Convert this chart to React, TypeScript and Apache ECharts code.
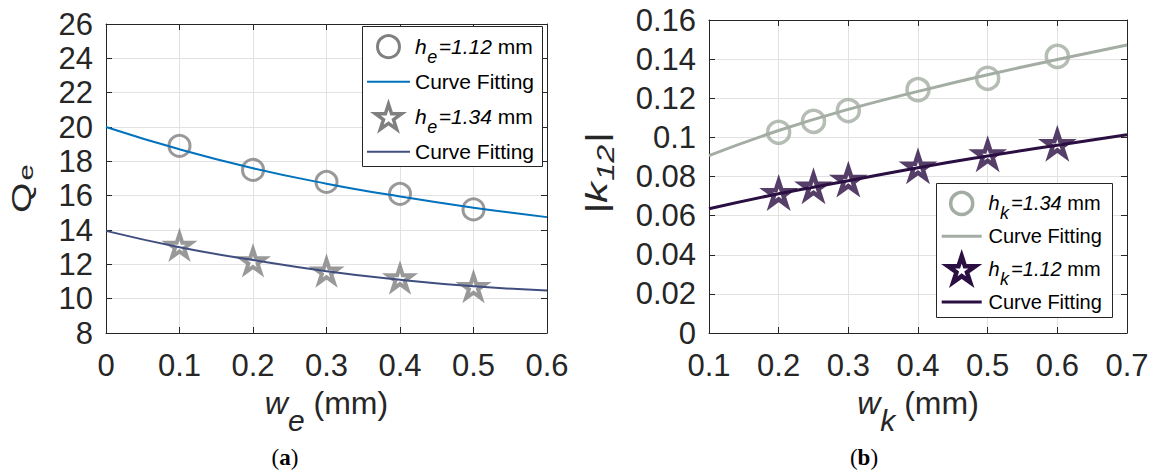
import React, { useEffect, useRef } from "react";
import * as echarts from "echarts";

// ---- panel (a): Q_e versus w_e ----
const weValues = [0.1, 0.2, 0.3, 0.4, 0.5];
const qeH112 = [18.9, 17.5, 16.8, 16.1, 15.2];
const qeH134 = [13.1, 12.2, 11.6, 11.2, 10.7];
const weFitX = [0, 0.1, 0.2, 0.3, 0.4, 0.5, 0.6];
const qeFitH112 = [20.0, 18.7, 17.6, 16.7, 15.95, 15.3, 14.75];
const qeFitH134 = [13.95, 13.0, 12.25, 11.6, 11.1, 10.72, 10.47];

// ---- panel (b): |k12| versus w_k ----
const wkValues = [0.2, 0.25, 0.3, 0.4, 0.5, 0.6];
const k12H134 = [0.1026, 0.1082, 0.1137, 0.1244, 0.1302, 0.1414];
const k12H112 = [0.0715, 0.0749, 0.0783, 0.0851, 0.0913, 0.0966];
const wkFitX = [0.1, 0.2, 0.3, 0.4, 0.5, 0.6, 0.7];
const k12FitH134 = [0.0907, 0.1035, 0.1143, 0.1235, 0.132, 0.1398, 0.1472];
const k12FitH112 = [0.0635, 0.0712, 0.0778, 0.0845, 0.0905, 0.096, 0.1013];

const FONT_NAME = "Liberation Sans";
const FONT = "'Liberation Sans', Arial, Helvetica, sans-serif";
const SERIF = "'Liberation Serif', 'DejaVu Serif', serif";
const AXIS = "#262626";
const GRID = "#e2e2e2";

const C_A1 = "#808080";
const C_AFIT1 = "#0072BD";
const C_AFIT2 = "#3f4e7e";
const C_B1 = "#a3ada3";
const C_B2 = "#2b0e42";

const STAR =
  "path://M50 0 L61.23 34.55 L97.55 34.55 L68.17 55.9 L79.39 90.45 L50 69.1 L20.61 90.45 L31.83 55.9 L2.45 34.55 L38.77 34.55 Z";
const STAR_UNIT = [
  [50, 0], [61.23, 34.55], [97.55, 34.55], [68.17, 55.9], [79.39, 90.45],
  [50, 69.1], [20.61, 90.45], [31.83, 55.9], [2.45, 34.55], [38.77, 34.55],
];

const pairs = (xs: number[], ys: number[]) => xs.map((x, i) => [x, ys[i]]);

const measureCtx = document.createElement("canvas").getContext("2d")!;
function textWidth(text: string, size: number, italic: boolean) {
  measureCtx.font = `${italic ? "italic " : ""}${size}px '${FONT_NAME}'`;
  return measureCtx.measureText(text).width;
}

type Part = { text: string; size: number; italic?: boolean; dy?: number; gap?: number };

// lays text pieces out one after another along a line (sub-scripts get a dy)
function textRun(x0: number, y0: number, parts: Part[], color: string, z = 52) {
  const out: any[] = [];
  let x = x0;
  for (const p of parts) {
    out.push({
      type: "text",
      x,
      y: y0 + (p.dy || 0),
      z,
      style: {
        text: p.text,
        fontFamily: FONT,
        fontSize: p.size,
        fontStyle: p.italic ? "italic" : "normal",
        fill: color,
        align: "left",
        verticalAlign: "middle",
      },
    });
    x += textWidth(p.text, p.size, !!p.italic) + (p.gap || 0);
  }
  return out;
}

function starPoints(cx: number, cy: number, h: number) {
  const s = h / 90.45;
  return STAR_UNIT.map(([x, y]) => [cx + (x - 50) * s, cy + (y - 45.225) * s]);
}

type Row =
  | { kind: "circle"; color: string; lw: number; r: number; parts: Part[] }
  | { kind: "star"; color: string; lw: number; size: number; parts: Part[] }
  | { kind: "line"; color: string; lw: number; parts: Part[] };

function legendBox(
  box: { x: number; y: number; w: number; h: number },
  iconX1: number,
  iconX2: number,
  textX: number,
  rowY: number[],
  rows: Row[]
) {
  const els: any[] = [
    {
      type: "rect",
      z: 50,
      shape: { x: box.x + 0.5, y: box.y + 0.5, width: box.w, height: box.h },
      style: { fill: "#fff", stroke: AXIS, lineWidth: 1 },
    },
  ];
  const cx = (iconX1 + iconX2) / 2;
  rows.forEach((row, i) => {
    const cy = rowY[i];
    if (row.kind === "circle") {
      els.push({ type: "circle", z: 51, shape: { cx, cy, r: row.r }, style: { fill: "none", stroke: row.color, lineWidth: row.lw } });
    } else if (row.kind === "star") {
      els.push({ type: "polygon", z: 51, shape: { points: starPoints(cx, cy, row.size) }, style: { fill: "#fff", stroke: row.color, lineWidth: row.lw, lineJoin: "miter" } });
    } else {
      els.push({ type: "line", z: 51, shape: { x1: iconX1, y1: cy, x2: iconX2, y2: cy }, style: { stroke: row.color, lineWidth: row.lw } });
    }
    els.push(...textRun(textX, cy, row.parts, "#000"));
  });
  return els;
}

function rotatedName(x: number, y: number, parts: Part[], stretch: number) {
  return {
    type: "group",
    x,
    y,
    rotation: Math.PI / 2,
    scaleX: stretch,
    children: textRun(0, 0, parts, AXIS, 40),
  };
}

function mainX(grid: number, min: number, max: number, name: string) {
  return {
    gridIndex: grid,
    type: "value",
    min,
    max,
    interval: 0.1,
    position: "bottom",
    axisLine: { show: true, onZero: false, lineStyle: { color: AXIS, width: 1 } },
    axisTick: { show: true, inside: true, length: 6, lineStyle: { color: AXIS } },
    splitLine: { show: true, lineStyle: { color: GRID, width: 1 } },
    axisLabel: { fontFamily: FONT, fontSize: 31, color: AXIS, margin: 17 },
    name,
    nameLocation: "middle",
    nameGap: 37,
    nameTextStyle: {
      rich: {
        m: { fontFamily: FONT, fontSize: 32, fontStyle: "italic", color: AXIS },
        s: { fontFamily: FONT, fontSize: 30, fontStyle: "italic", color: AXIS, padding: [35, 0, 0, 0] },
        n: { fontFamily: FONT, fontSize: 32, color: AXIS },
      },
    },
  };
}

function boxX(grid: number, min: number, max: number) {
  return {
    gridIndex: grid,
    type: "value",
    min,
    max,
    interval: 0.1,
    position: "top",
    axisLine: { show: true, onZero: false, lineStyle: { color: AXIS, width: 1 } },
    axisTick: { show: true, inside: true, length: 6, lineStyle: { color: AXIS } },
    splitLine: { show: false },
    axisLabel: { show: false },
  };
}

function mainY(grid: number, min: number, max: number, interval: number) {
  return {
    gridIndex: grid,
    type: "value",
    min,
    max,
    interval,
    position: "left",
    axisLine: { show: true, onZero: false, lineStyle: { color: AXIS, width: 1 } },
    axisTick: { show: true, inside: true, length: 6, lineStyle: { color: AXIS } },
    splitLine: { show: true, lineStyle: { color: GRID, width: 1 } },
    axisLabel: { fontFamily: FONT, fontSize: 31, color: AXIS, margin: 13 },
  };
}

function boxY(grid: number, min: number, max: number, interval: number) {
  return {
    gridIndex: grid,
    type: "value",
    min,
    max,
    interval,
    position: "right",
    axisLine: { show: true, onZero: false, lineStyle: { color: AXIS, width: 1 } },
    axisTick: { show: true, inside: true, length: 6, lineStyle: { color: AXIS } },
    splitLine: { show: false },
    axisLabel: { show: false },
  };
}

function caption(x: number, y: number, letter: string) {
  return {
    type: "text",
    x,
    y,
    style: {
      text: `{p|(}{b|${letter}}{p|)}`,
      align: "center",
      verticalAlign: "middle",
      rich: {
        p: { fontFamily: SERIF, fontSize: 23, fill: "#000" },
        b: { fontFamily: SERIF, fontSize: 23, fontWeight: "bold", fill: "#000" },
      },
    },
  };
}

function buildOption(): any {
  const legendA = legendBox(
    { x: 362, y: 26, w: 180, h: 140 },
    367,
    410,
    415,
    [46.7, 81.7, 116.7, 151.7],
    [
      { kind: "circle", color: C_A1, lw: 3, r: 11, parts: [
        { text: "h", size: 21, italic: true, gap: 0.5 },
        { text: "e", size: 18, italic: true, dy: 10, gap: 1.5 },
        { text: "=1.12", size: 21, italic: true },
        { text: " mm", size: 21 },
      ] },
      { kind: "line", color: C_AFIT1, lw: 2, parts: [{ text: "Curve Fitting", size: 21 }] },
      { kind: "star", color: C_A1, lw: 3.5, size: 25, parts: [
        { text: "h", size: 21, italic: true, gap: 0.5 },
        { text: "e", size: 18, italic: true, dy: 10, gap: 1.5 },
        { text: "=1.34", size: 21, italic: true },
        { text: " mm", size: 21 },
      ] },
      { kind: "line", color: C_AFIT2, lw: 2, parts: [{ text: "Curve Fitting", size: 21 }] },
    ]
  );

  const legendB = legendBox(
    { x: 936, y: 183, w: 176, h: 134 },
    941.7,
    981.7,
    988.5,
    [203.4, 236.3, 269.2, 302.0],
    [
      { kind: "circle", color: C_B1, lw: 3.5, r: 11, parts: [
        { text: "h", size: 20, italic: true, gap: 0.5 },
        { text: "k", size: 18, italic: true, dy: 10, gap: 2 },
        { text: "=1.34", size: 20, italic: true },
        { text: " mm", size: 20 },
      ] },
      { kind: "line", color: C_B1, lw: 3, parts: [{ text: "Curve Fitting", size: 20 }] },
      { kind: "star", color: C_B2, lw: 4.5, size: 26, parts: [
        { text: "h", size: 20, italic: true, gap: 0.5 },
        { text: "k", size: 18, italic: true, dy: 10, gap: 2 },
        { text: "=1.12", size: 20, italic: true },
        { text: " mm", size: 20 },
      ] },
      { kind: "line", color: C_B2, lw: 3, parts: [{ text: "Curve Fitting", size: 20 }] },
    ]
  );

  const nameQe = rotatedName(21.5, 213, [
    { text: "Q", size: 28, gap: 1.5 },
    { text: "e", size: 21, dy: 4.5 },
  ], 1.4);

  const nameK12 = rotatedName(597, 214, [
    { text: "|k", size: 30, italic: true, gap: 1 },
    { text: "12", size: 23, italic: true, dy: 9, gap: 1 },
    { text: "|", size: 30, italic: true },
  ], 1.4);

  return {
    animation: false,
    backgroundColor: "#fff",
    grid: [
      { left: 106, top: 24, width: 441, height: 309 },
      { left: 709, top: 20, width: 418, height: 313 },
    ],
    xAxis: [
      mainX(0, 0, 0.6, "{m|w}{s|e}{n| (mm)}"),
      boxX(0, 0, 0.6),
      mainX(1, 0.1, 0.7, "{m|w}{s|k}{n| (mm)}"),
      boxX(1, 0.1, 0.7),
    ],
    yAxis: [mainY(0, 8, 26, 2), boxY(0, 8, 26, 2), mainY(1, 0, 0.16, 0.02), boxY(1, 0, 0.16, 0.02)],
    series: [
      {
        name: "he = 1.12 mm",
        type: "scatter",
        xAxisIndex: 0,
        yAxisIndex: 0,
        data: pairs(weValues, qeH112),
        symbol: "circle",
        symbolSize: 21,
        itemStyle: { color: "rgba(255,255,255,0)", borderColor: C_A1, borderWidth: 3 },
      },
      {
        name: "Curve Fitting (he = 1.12 mm)",
        type: "line",
        xAxisIndex: 0,
        yAxisIndex: 0,
        data: pairs(weFitX, qeFitH112),
        smooth: true,
        symbol: "none",
        lineStyle: { color: C_AFIT1, width: 2 },
        itemStyle: { color: C_AFIT1 },
      },
      {
        name: "he = 1.34 mm",
        type: "scatter",
        xAxisIndex: 0,
        yAxisIndex: 0,
        data: pairs(weValues, qeH134),
        symbol: STAR,
        symbolSize: 24,
        symbolKeepAspect: true,
        itemStyle: { color: "#ffffff", borderColor: C_A1, borderWidth: 4 },
      },
      {
        name: "Curve Fitting (he = 1.34 mm)",
        type: "line",
        xAxisIndex: 0,
        yAxisIndex: 0,
        data: pairs(weFitX, qeFitH134),
        smooth: true,
        symbol: "none",
        lineStyle: { color: C_AFIT2, width: 2 },
        itemStyle: { color: C_AFIT2 },
      },
      {
        name: "hk = 1.34 mm",
        type: "scatter",
        xAxisIndex: 2,
        yAxisIndex: 2,
        data: pairs(wkValues, k12H134),
        symbol: "circle",
        symbolSize: 22,
        itemStyle: { color: "rgba(255,255,255,0)", borderColor: C_B1, borderWidth: 3.5 },
      },
      {
        name: "Curve Fitting (hk = 1.34 mm)",
        type: "line",
        xAxisIndex: 2,
        yAxisIndex: 2,
        data: pairs(wkFitX, k12FitH134),
        smooth: true,
        symbol: "none",
        lineStyle: { color: C_B1, width: 3 },
        itemStyle: { color: C_B1 },
      },
      {
        name: "hk = 1.12 mm",
        type: "scatter",
        xAxisIndex: 2,
        yAxisIndex: 2,
        data: pairs(wkValues, k12H112),
        symbol: STAR,
        symbolSize: 25,
        symbolKeepAspect: true,
        itemStyle: { color: "#ffffff", borderColor: C_B2, borderWidth: 4.5 },
      },
      {
        name: "Curve Fitting (hk = 1.12 mm)",
        type: "line",
        xAxisIndex: 2,
        yAxisIndex: 2,
        data: pairs(wkFitX, k12FitH112),
        smooth: true,
        symbol: "none",
        lineStyle: { color: C_B2, width: 3 },
        itemStyle: { color: C_B2 },
      },
    ],
    graphic: [...legendA, ...legendB, nameQe, nameK12, caption(285, 457, "a"), caption(864, 457, "b")],
  };
}

export default function App() {
  const ref = useRef<HTMLDivElement>(null);
  useEffect(() => {
    document.body.style.margin = "0";
    const chart = echarts.init(ref.current!, null, { renderer: "svg" });
    chart.setOption(buildOption());
    return () => chart.dispose();
  }, []);
  return <div ref={ref} style={{ width: 1155, height: 473 }} />;
}
